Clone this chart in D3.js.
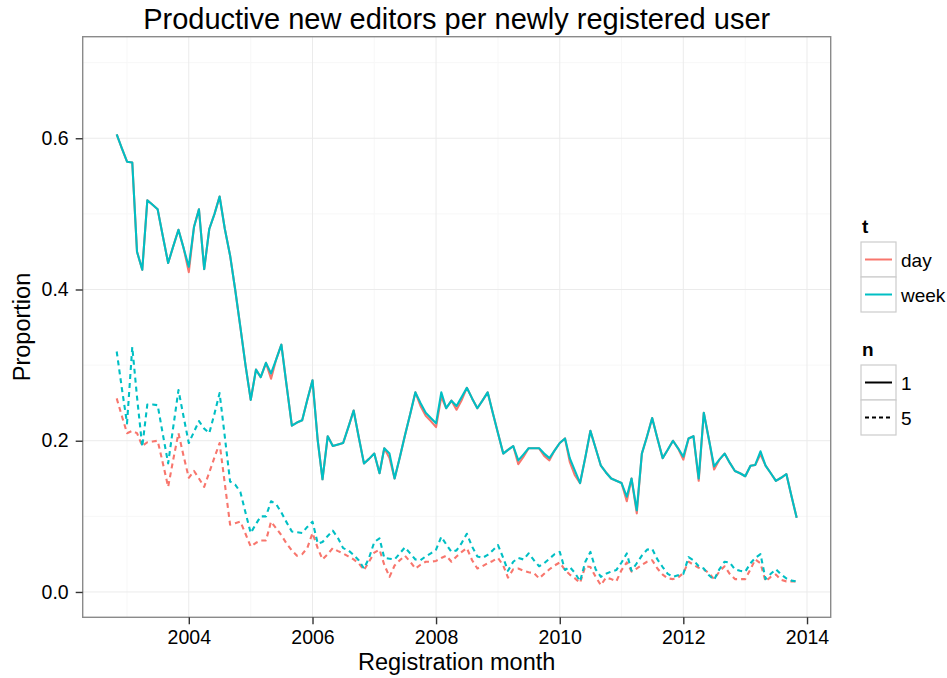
<!DOCTYPE html>
<html><head><meta charset="utf-8">
<script src="https://cdn.jsdelivr.net/npm/d3@7"></script>
<style>
body{margin:0;background:#fff;}
text{font-family:"Liberation Sans",Arial,Helvetica,sans-serif;}
</style></head>
<body><svg id="chart" width="947" height="678"></svg>
<script>
// ---- data ----
const startMonth = new Date(2002, 10, 1);   // Nov 2002
const endMonth = new Date(2013, 10, 1);     // Nov 2013
const months = d3.timeMonth.range(startMonth, d3.timeMonth.offset(endMonth, 1));

const week1 = [0.605,0.587,0.569,0.568,0.450,0.426,0.518,0.512,0.506,0.470,0.435,0.457,0.479,0.455,0.430,0.483,0.506,0.427,0.480,0.500,
0.523,0.480,0.445,0.400,0.350,0.300,0.254,0.294,0.284,0.303,0.289,0.308,0.327,0.273,0.220,0.224,0.227,0.254,0.280,0.200,
0.149,0.206,0.193,0.195,0.197,0.218,0.240,0.205,0.170,0.176,0.183,0.157,0.190,0.183,0.150,0.178,0.207,0.235,0.264,0.250,
0.237,0.230,0.223,0.264,0.243,0.253,0.246,0.258,0.270,0.256,0.243,0.253,0.264,0.237,0.210,0.183,0.188,0.193,0.174,0.182,
0.190,0.190,0.190,0.183,0.177,0.187,0.197,0.203,0.177,0.160,0.144,0.178,0.213,0.190,0.167,0.158,0.150,0.147,0.144,0.126,
0.150,0.108,0.183,0.206,0.230,0.203,0.177,0.188,0.200,0.190,0.179,0.203,0.206,0.150,0.237,0.201,0.166,0.175,0.183,0.171,
0.160,0.157,0.153,0.167,0.168,0.186,0.167,0.157,0.147,0.151,0.156,0.127,0.098];

const day1 = [0.605,0.587,0.569,0.568,0.450,0.426,0.518,0.512,0.506,0.470,0.435,0.457,0.479,0.455,0.423,0.483,0.506,0.427,0.480,0.500,
0.523,0.480,0.445,0.400,0.350,0.300,0.254,0.294,0.284,0.303,0.282,0.308,0.327,0.273,0.220,0.224,0.227,0.254,0.280,0.200,
0.149,0.206,0.193,0.195,0.197,0.218,0.240,0.205,0.170,0.176,0.183,0.157,0.190,0.177,0.150,0.178,0.207,0.235,0.264,0.246,
0.233,0.226,0.218,0.258,0.243,0.253,0.241,0.254,0.270,0.256,0.243,0.253,0.264,0.237,0.210,0.183,0.188,0.193,0.169,0.179,
0.190,0.190,0.190,0.180,0.174,0.187,0.197,0.203,0.172,0.154,0.144,0.178,0.213,0.190,0.167,0.158,0.150,0.147,0.144,0.120,
0.150,0.104,0.183,0.206,0.230,0.203,0.177,0.188,0.200,0.190,0.175,0.203,0.206,0.147,0.237,0.201,0.162,0.175,0.183,0.171,
0.160,0.157,0.153,0.167,0.168,0.182,0.167,0.157,0.147,0.151,0.156,0.127,0.098];

const week5 = [0.318,0.270,0.223,0.324,0.258,0.192,0.248,0.248,0.247,0.208,0.170,0.218,0.267,0.232,0.197,0.212,0.226,0.216,0.210,0.236,
0.263,0.205,0.146,0.142,0.132,0.105,0.078,0.090,0.100,0.100,0.120,0.116,0.105,0.092,0.080,0.079,0.078,0.086,0.093,0.064,
0.066,0.074,0.081,0.071,0.058,0.055,0.049,0.042,0.031,0.045,0.066,0.071,0.045,0.044,0.043,0.051,0.059,0.051,0.043,0.042,
0.047,0.051,0.056,0.073,0.063,0.053,0.055,0.065,0.077,0.060,0.047,0.045,0.049,0.055,0.062,0.045,0.028,0.040,0.045,0.043,
0.051,0.042,0.034,0.038,0.044,0.050,0.053,0.029,0.033,0.025,0.014,0.040,0.053,0.030,0.020,0.024,0.027,0.029,0.039,0.051,
0.028,0.038,0.048,0.056,0.057,0.043,0.033,0.024,0.020,0.022,0.024,0.046,0.042,0.034,0.031,0.022,0.016,0.030,0.040,0.039,
0.030,0.028,0.027,0.038,0.045,0.050,0.017,0.024,0.030,0.023,0.018,0.015,0.014];

const day5 = [0.256,0.233,0.210,0.213,0.210,0.193,0.198,0.199,0.200,0.170,0.139,0.175,0.210,0.180,0.151,0.160,0.150,0.139,0.158,0.178,
0.197,0.143,0.089,0.091,0.093,0.077,0.060,0.065,0.068,0.068,0.093,0.084,0.075,0.064,0.055,0.048,0.050,0.058,0.078,0.058,
0.043,0.050,0.058,0.054,0.051,0.047,0.043,0.038,0.029,0.040,0.052,0.056,0.036,0.020,0.035,0.042,0.048,0.040,0.031,0.036,
0.040,0.040,0.041,0.045,0.048,0.040,0.047,0.053,0.058,0.042,0.031,0.034,0.038,0.041,0.045,0.035,0.019,0.030,0.031,0.028,
0.026,0.025,0.018,0.024,0.030,0.035,0.039,0.029,0.023,0.018,0.012,0.034,0.033,0.020,0.009,0.019,0.017,0.014,0.029,0.039,
0.027,0.031,0.036,0.040,0.042,0.031,0.023,0.018,0.017,0.019,0.025,0.040,0.036,0.032,0.030,0.025,0.017,0.027,0.034,0.024,
0.017,0.017,0.017,0.030,0.043,0.038,0.014,0.020,0.023,0.016,0.014,0.014,0.014];

const tLevels = ["day", "week"];
const nLevels = ["1", "5"];
const yTicks = [0, 0.2, 0.4, 0.6];
const yMinor = [0.1, 0.3, 0.5, 0.7];
const xTickYears = [2004, 2006, 2008, 2010, 2012, 2014];
const xMinorYears = [2003, 2005, 2007, 2009, 2011, 2013];

const series = [
  {t: "day", n: "1", values: day1},
  {t: "day", n: "5", values: day5},
  {t: "week", n: "1", values: week1},
  {t: "week", n: "5", values: week5}
];

// ---- layout ----
const svg = d3.select("#chart");
const P = {left: 82.7, right: 830.7, top: 36.7, bottom: 617.3};
const colorScale = d3.scaleOrdinal().domain(tLevels).range(["#F8766D", "#00BFC4"]);
const dashScale = d3.scaleOrdinal().domain(nLevels).range(["none", "5,4"]);

const span = endMonth - startMonth;
const x = d3.scaleTime()
  .domain([new Date(+startMonth - 0.05 * span), new Date(+endMonth + 0.05 * span)])
  .range([P.left, P.right]);
const y = d3.scaleLinear().domain([-0.0335, 0.7343]).range([P.bottom, P.top]);

const font = "'Liberation Sans',Arial,Helvetica,sans-serif";

// panel background
svg.append("rect").attr("x", P.left).attr("y", P.top)
  .attr("width", P.right - P.left).attr("height", P.bottom - P.top).attr("fill", "#fff");

const grid = svg.append("g");
// minor grid
grid.selectAll(".ymin").data(yMinor).join("line")
  .attr("x1", P.left).attr("x2", P.right).attr("y1", d => y(d)).attr("y2", d => y(d))
  .attr("stroke", "#f7f7f7").attr("stroke-width", 1);
grid.selectAll(".xmin").data(xMinorYears).join("line")
  .attr("y1", P.top).attr("y2", P.bottom)
  .attr("x1", d => x(new Date(d, 0, 1))).attr("x2", d => x(new Date(d, 0, 1)))
  .attr("stroke", "#f7f7f7").attr("stroke-width", 1);
// major grid
grid.selectAll(".ymaj").data(yTicks).join("line")
  .attr("x1", P.left).attr("x2", P.right).attr("y1", d => y(d)).attr("y2", d => y(d))
  .attr("stroke", "#ebebeb").attr("stroke-width", 1);
grid.selectAll(".xmaj").data(xTickYears).join("line")
  .attr("y1", P.top).attr("y2", P.bottom)
  .attr("x1", d => x(new Date(d, 0, 1))).attr("x2", d => x(new Date(d, 0, 1)))
  .attr("stroke", "#ebebeb").attr("stroke-width", 1);

// lines
const line = d3.line().x((d, i) => x(months[i])).y(d => y(d));
const clip = svg.append("clipPath").attr("id", "clip").append("rect")
  .attr("x", P.left).attr("y", P.top).attr("width", P.right - P.left).attr("height", P.bottom - P.top);
svg.append("g").attr("clip-path", "url(#clip)")
  .selectAll("path").data(series).join("path")
  .attr("d", d => line(d.values))
  .attr("fill", "none")
  .attr("stroke", d => colorScale(d.t))
  .attr("stroke-width", 2.1)
  .attr("stroke-linejoin", "round")
  .attr("stroke-dasharray", d => dashScale(d.n));

// panel border
svg.append("rect").attr("x", P.left).attr("y", P.top)
  .attr("width", P.right - P.left).attr("height", P.bottom - P.top)
  .attr("fill", "none").attr("stroke", "#8a8a8a").attr("stroke-width", 1.4);

// axes
const yAxis = d3.axisLeft(y).tickValues(yTicks).tickFormat(d3.format(".1f")).tickSize(7).tickPadding(7);
const ga = svg.append("g").attr("transform", `translate(${P.left},0)`).call(yAxis);
ga.select(".domain").remove();
ga.selectAll(".tick line").attr("stroke", "#333").attr("stroke-width", 1.4);
ga.selectAll(".tick text").attr("font-size", 19.5).attr("fill", "#000").attr("font-family", font);

const xAxis = d3.axisBottom(x).tickValues(xTickYears.map(d => new Date(d, 0, 1)))
  .tickFormat(d3.timeFormat("%Y")).tickSize(7).tickPadding(6);
const gx = svg.append("g").attr("transform", `translate(0,${P.bottom})`).call(xAxis);
gx.select(".domain").remove();
gx.selectAll(".tick line").attr("stroke", "#333").attr("stroke-width", 1.4);
gx.selectAll(".tick text").attr("font-size", 19.5).attr("fill", "#000").attr("font-family", font);

// titles
const cx = (P.left + P.right) / 2;
svg.append("text").attr("x", cx).attr("y", 28.5).attr("text-anchor", "middle")
  .attr("font-size", 29).attr("fill", "#000").text("Productive new editors per newly registered user");
svg.append("text").attr("x", cx).attr("y", 670).attr("text-anchor", "middle")
  .attr("font-size", 23.5).attr("fill", "#000").text("Registration month");
svg.append("text").attr("transform", `translate(30,${(P.top + P.bottom) / 2}) rotate(-90)`)
  .attr("text-anchor", "middle").attr("font-size", 23.5).attr("fill", "#000").text("Proportion");

// legends
const lx = 861, kw = 35, kh = 35;
function legend(title, levels, top, styleFn) {
  const g = svg.append("g");
  g.append("text").attr("x", lx + 1).attr("y", top).attr("font-size", 19).attr("font-weight", "bold")
    .attr("fill", "#000").text(title);
  levels.forEach((lv, i) => {
    const ky = top + 9 + i * kh;
    g.append("rect").attr("x", lx).attr("y", ky).attr("width", kw).attr("height", kh)
      .attr("fill", "#fff").attr("stroke", "#cccccc").attr("stroke-width", 1.2);
    const l = g.append("line").attr("x1", lx + 4).attr("x2", lx + kw - 4)
      .attr("y1", ky + kh / 2).attr("y2", ky + kh / 2).attr("stroke-width", 2);
    styleFn(l, lv);
    g.append("text").attr("x", lx + kw + 5).attr("y", ky + kh / 2 + 7)
      .attr("font-size", 19).attr("fill", "#000").text(lv);
  });
}
legend("t", tLevels, 233, (l, lv) => l.attr("stroke", colorScale(lv)));
legend("n", nLevels, 356, (l, lv) => l.attr("stroke", "#000").attr("stroke-dasharray", lv === "5" ? "4,3" : null));
</script>
</body></html>
